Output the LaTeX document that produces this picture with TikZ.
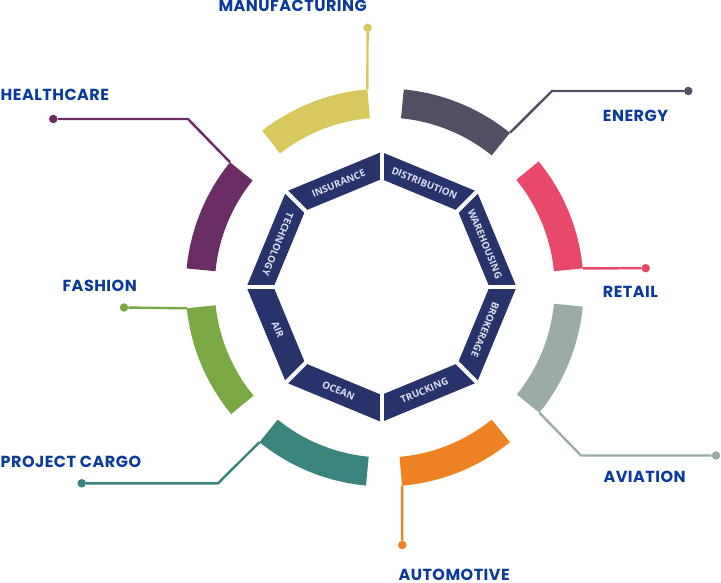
\documentclass[tikz,border=0pt]{standalone}
\usepackage{fontspec}
\setmainfont{Open Sans}
\newfontfamily\lblfont{Poppins}[LetterSpace=3]
\usetikzlibrary{calc}
\definecolor{navy}{HTML}{28336B}
\definecolor{segtext}{HTML}{DDE0F0}
\definecolor{lblblue}{HTML}{0B3A9B}
\definecolor{yelc}{HTML}{D8C95E}
\definecolor{darkc}{HTML}{534E63}
\definecolor{redc}{HTML}{E8496A}
\definecolor{grayc}{HTML}{9BABA8}
\definecolor{orac}{HTML}{EE8121}
\definecolor{tealc}{HTML}{3A847D}
\definecolor{greenc}{HTML}{7AA845}
\definecolor{purc}{HTML}{6B2C66}
\newcommand\ringband[3]{\fill[#1] ($(C)+(#2:170pt)$) arc[start angle=#2,end angle=#3,radius=170pt] -- ($(C)+(#3:199pt)$) arc[start angle=#3,end angle=#2,radius=199pt] -- cycle;}
\newcommand\octpiece[2]{\fill[navy] ($(O)+(#1:135pt)$) -- ($(O)+(#2:135pt)$) -- ($(O)+(#2:107.9pt)$) -- ($(O)+(#1:107.9pt)$) -- cycle;}
\begin{document}
\begin{tikzpicture}[x=1pt,y=-1pt,
  lbl/.style={font=\lblfont\bfseries\fontsize{16}{16}\selectfont, text=lblblue, anchor=base west, inner sep=0pt},
  seg/.style={font=\bfseries\fontsize{9.8}{9.8}\selectfont, text=segtext, inner sep=0pt},
  conn/.style={line width=2.4pt},
  dot/.style={circle, fill, inner sep=0pt, minimum size=8.5pt}]
\useasboundingbox (0,0) rectangle (721,583);
\coordinate (C) at (384.7,287.5);
\coordinate (O) at (381.5,287);
% outer ring bands
\ringband{yelc}{95}{128}
\ringband{darkc}{51}{84.5}
\ringband{redc}{5.5}{39.3}
\ringband{grayc}{-39}{-5.5}
\ringband{orac}{-85}{-51}
\ringband{tealc}{231}{264.6}
\ringband{greenc}{186}{219.5}
\ringband{purc}{141}{174.5}
% octagon
\foreach \a in {0,45,...,315} {\pgfmathsetmacro\b{\a+45}\octpiece{\a}{\b}}
\foreach \a in {0,45,...,315} {\draw[white,line width=4pt] ($(O)+(\a:100pt)$) -- ($(O)+(\a:142pt)$);}
\node[seg, rotate=22.5] (tIns) at ($(O)+(112.5:112.2pt)$) {INSURANCE};
\node[seg, rotate=-22.5] (tDis) at ($(O)+(67.5:112.2pt)$) {DISTRIBUTION};
\node[seg, rotate=-67.5] (tWar) at ($(O)+(22.5:112.2pt)$) {WAREHOUSING};
\node[seg, rotate=-112.5] (tBro) at ($(O)+(-22.5:112.2pt)$) {BROKERAGE};
\node[seg, rotate=22.5] (tTru) at ($(O)+(-67.5:112.2pt)$) {TRUCKING};
\node[seg, rotate=-22.5] (tOce) at ($(O)+(-112.5:112.2pt)$) {OCEAN};
\node[seg, rotate=-67.5] (tAir) at ($(O)+(202.5:112.2pt)$) {AIR};
\node[seg, rotate=247.5] (tTec) at ($(O)+(157.5:112.2pt)$) {TECHNOLOGY};
% connector anchor points
\coordinate (manA) at ($(C)+(95:199pt)$);
\coordinate (enA) at ($(C)+(51:199pt)$);
\coordinate (reA) at ($(C)+(5.5:199pt)$);
\coordinate (avA) at ($(C)+(-39:199pt)$);
\coordinate (auA) at ($(C)+(-85:199pt)$);
\coordinate (prA) at ($(C)+(231:199pt)$);
\coordinate (faA) at ($(C)+(186:199pt)$);
\coordinate (heA) at ($(C)+(141:199pt)$);
\coordinate (enB) at (552,91);
\coordinate (avB) at (581,455.5);
\coordinate (prB) at (218,483.3);
\coordinate (heB) at (188,119);
% dots
\node[dot, yelc] (manD) at (367.6,27.7) {};
\node[dot, darkc] (enD) at (688.3,91) {};
\node[dot, redc] (reD) at (645.7,268.2) {};
\node[dot, grayc] (avD) at (716,455.5) {};
\node[dot, orac] (auD) at (402.3,545) {};
\node[dot, tealc] (prD) at (81.7,483.3) {};
\node[dot, greenc] (faD) at (124,307.5) {};
\node[dot, purc] (heD) at (53.3,119) {};
% connectors
\draw[conn, yelc] (manA) -- (manD);
\draw[conn, darkc] (enA) -- (enB) -- (enD);
\draw[conn, redc] (reA) -- (reD);
\draw[conn, grayc] (avA) -- (avB) -- (avD);
\draw[conn, orac] (auA) -- (auD);
\draw[conn, tealc] (prA) -- (prB) -- (prD);
\draw[conn, greenc] (faA) -- (faD);
\draw[conn, purc] (heA) -- (heB) -- (heD);
% labels
\node[lbl] (lMan) at (218.3,12) {MANUFACTURING};
\node[lbl] (lEn) at (602.7,121.5) {ENERGY};
\node[lbl] (lRe) at (602.7,297) {RETAIL};
\node[lbl] (lAv) at (603.3,482.5) {AVIATION};
\node[lbl] (lAu) at (398.3,580.3) {AUTOMOTIVE};
\node[lbl] (lPr) at (0.5,467) {PROJECT CARGO};
\node[lbl] (lFa) at (62.3,291.5) {FASHION};
\node[lbl] (lHe) at (0.5,101) {HEALTHCARE};
\end{tikzpicture}
\end{document}
